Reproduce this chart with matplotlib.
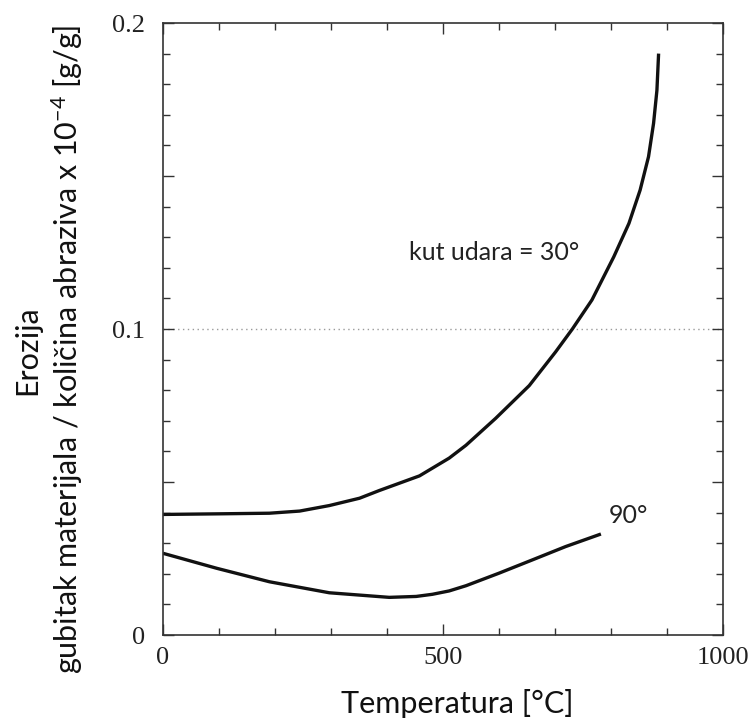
import matplotlib
matplotlib.use("Agg")
import matplotlib.pyplot as plt
from matplotlib.ticker import MultipleLocator

# ---- data ----
temp_30 = [0, 100, 190, 244, 297, 351, 386, 458, 511, 541, 594, 654, 701,
           731, 766, 805, 832, 852, 867, 876, 882, 885]
eros_30 = [0.0394, 0.0396, 0.0398, 0.0405, 0.0423, 0.0447, 0.0472, 0.0520,
           0.0578, 0.0620, 0.0708, 0.0815, 0.0925, 0.1000, 0.1095, 0.1236,
           0.1345, 0.1454, 0.1563, 0.1672, 0.1780, 0.1900]

temp_90 = [0, 96, 190, 297, 404, 452, 481, 511, 541, 600, 659, 719, 782]
eros_90 = [0.0267, 0.0218, 0.0174, 0.0138, 0.0123, 0.0126, 0.0133, 0.0144,
           0.0161, 0.0202, 0.0245, 0.0289, 0.0330]

x_ticks = [0, 500, 1000]
x_tick_labels = ["0", "500", "1000"]
y_ticks = [0, 0.05, 0.1, 0.15, 0.2]
y_tick_labels = ["0", "", "0.1", "", "0.2"]

label_30 = "kut udara = 30°"
label_90 = "90°"
xlabel = "Temperatura [°C]"
ylabel1 = "Erozija"
ylabel2 = "gubitak materijala / količina abraziva x 10$^{-4}$ [g/g]"

plt.rcParams['mathtext.default'] = 'regular'
sans = ['Lato', 'DejaVu Sans']
serif = ['Liberation Serif', 'DejaVu Serif']

fig = plt.figure(figsize=(7.56, 7.2), dpi=100)
ax = fig.add_axes([163/756, 85/720, 560/756, 612/720])

for xs, ys in ((temp_30, eros_30), (temp_90, eros_90)):
    ax.plot(xs, ys, color='#111111', lw=2.4, solid_capstyle='butt',
            solid_joinstyle='round')
ax.axhline(0.1, color='#9a9a9a', lw=1.0, ls=(0, (1, 2.5)), zorder=0)

ax.set_xlim(0, 1000)
ax.set_ylim(0, 0.2)

ax.set_xticks(x_ticks)
ax.set_xticklabels(x_tick_labels, family=serif, fontsize=19, color='#222222')
ax.xaxis.set_minor_locator(MultipleLocator(100))
ax.set_yticks(y_ticks)
ax.set_yticklabels(y_tick_labels, family=serif, fontsize=19, color='#222222')
ax.yaxis.set_minor_locator(MultipleLocator(0.01))

ax.tick_params(which='both', direction='in', top=True, right=True,
               color='#333333', width=1.0)
ax.tick_params(which='major', length=8)
ax.tick_params(which='minor', length=5)
ax.tick_params(axis='x', which='major', pad=9)
ax.tick_params(axis='y', which='major', pad=13)

for s in ax.spines.values():
    s.set_color('#333333')
    s.set_linewidth(1.2)

ax.text(440, 0.125, label_30, family=sans, fontsize=18, color='#222222',
        ha='left', va='center')
ax.text(796, 0.0392, label_90, family=sans, fontsize=18, color='#222222',
        ha='left', va='center')

fig.text(457/756, 17/720, xlabel, family=sans, fontsize=22, color='#111111',
         ha='center', va='center')
fig.text(27/756, (720-350)/720, ylabel1, family=sans, fontsize=22,
         color='#111111', ha='center', va='center', rotation=90)
fig.text(67/756, (720-349)/720, ylabel2, family=sans, fontsize=22,
         color='#111111', ha='center', va='center', rotation=90)

fig.savefig("out.png", dpi=100)
